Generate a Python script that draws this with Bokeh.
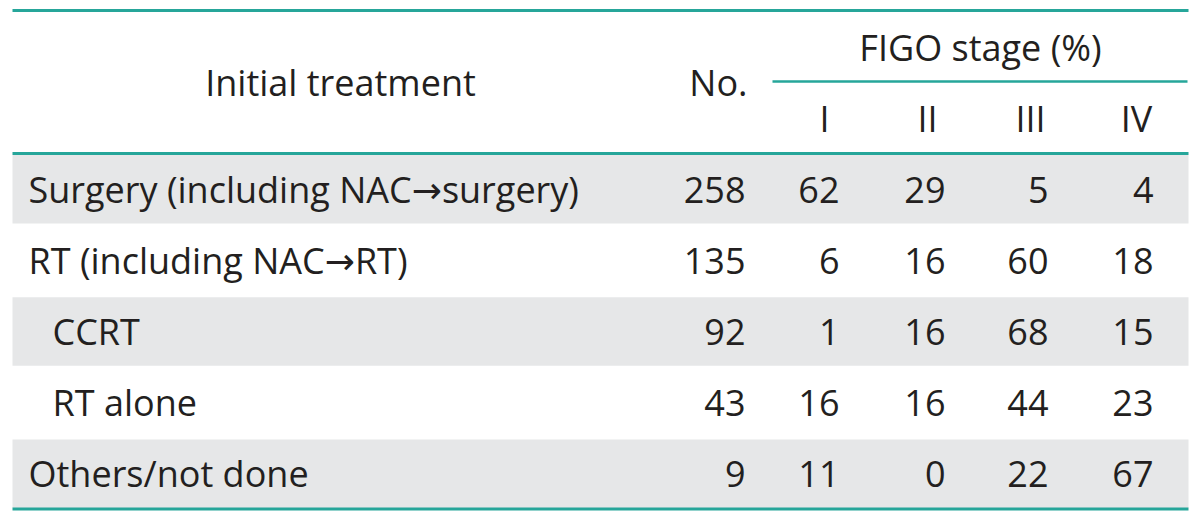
from bokeh.plotting import figure
from bokeh.models import Range1d, ColumnDataSource
from bokeh.core.properties import value
from bokeh.embed import file_html
from bokeh.resources import INLINE

# ---- data ----
treatments = ["Surgery (including NAC\u2192surgery)", "RT (including NAC\u2192RT)",
              "CCRT", "RT alone", "Others/not done"]
sub_row = [False, False, True, True, False]
n_patients = [258, 135, 92, 43, 9]
stage_I = [62, 6, 1, 16, 11]
stage_II = [29, 16, 16, 16, 0]
stage_III = [5, 60, 68, 44, 22]
stage_IV = [4, 18, 15, 23, 67]
stage_labels = ["I", "II", "III", "IV"]
header_treatment = "Initial treatment"
header_no = "No."
header_figo = "FIGO stage (%)"

# ---- style / layout ----
FONT = value("'Open Sans', 'DejaVu Sans'")
FS = "36px"
TXT = "#231f20"
TEAL = "#26a69a"
SHADE = "#e6e7e8"
X0, X1 = 12, 1188
HEAD_TOP, HEAD_BOT = 10, 153
ROW_H = 71.1
col_right = [745, 839, 945, 1048, 1153]
stage_center = [824, 927, 1030, 1136]

p = figure(width=1192, height=514, output_backend="svg", toolbar_location=None,
           x_range=Range1d(0, 1192), y_range=Range1d(514, 0),
           min_border=0, outline_line_color=None)
p.axis.visible = False
p.grid.visible = False
p.background_fill_color = "white"
p.border_fill_color = "white"

nrows = len(treatments)
row_top = [HEAD_BOT + 1.5 + i * ROW_H for i in range(nrows)]
row_mid = [t + ROW_H / 2 - 1 for t in row_top]

# shaded bands (rows 1,3,5)
shaded = [i for i in range(nrows) if i % 2 == 0]
p.quad(left=[X0] * len(shaded), right=[X1] * len(shaded),
       top=[row_top[i] for i in shaded], bottom=[row_top[i] + ROW_H - 2.5 for i in shaded],
       fill_color=SHADE, line_color=None)

# rules
bottom_y = row_top[-1] + ROW_H - 1.5
p.segment(x0=[X0, X0, X0], x1=[X1, X1, X1], y0=[HEAD_TOP, HEAD_BOT, bottom_y],
          y1=[HEAD_TOP, HEAD_BOT, bottom_y], line_color=TEAL, line_width=3)
p.segment(x0=[772], x1=[1187], y0=[81], y1=[81], line_color=TEAL, line_width=2.5)

# header text
p.text(x=[340], y=[82], text=[header_treatment], text_font=FONT, text_font_size=FS,
       text_color=TXT, text_align="center", text_baseline="middle")
p.text(x=[col_right[0] + 2], y=[82], text=[header_no], text_font=FONT, text_font_size=FS,
       text_color=TXT, text_align="right", text_baseline="middle")
p.text(x=[980], y=[47], text=[header_figo], text_font=FONT, text_font_size=FS,
       text_color=TXT, text_align="center", text_baseline="middle")
p.text(x=stage_center, y=[118] * 4, text=stage_labels, text_font=FONT, text_font_size=FS,
       text_color=TXT, text_align="center", text_baseline="middle")

# body text
src = ColumnDataSource(dict(
    x=[52 if s else 28 for s in sub_row], y=row_mid, t=treatments))
p.text(x="x", y="y", text="t", source=src, text_font=FONT, text_font_size=FS,
       text_color=TXT, text_align="left", text_baseline="middle")
for cx, vals in zip(col_right, [n_patients, stage_I, stage_II, stage_III, stage_IV]):
    p.text(x=[cx] * nrows, y=row_mid, text=[str(v) for v in vals], text_font=FONT,
           text_font_size=FS, text_color=TXT, text_align="right", text_baseline="middle")

open("out.html", "w").write(file_html(p, INLINE))
